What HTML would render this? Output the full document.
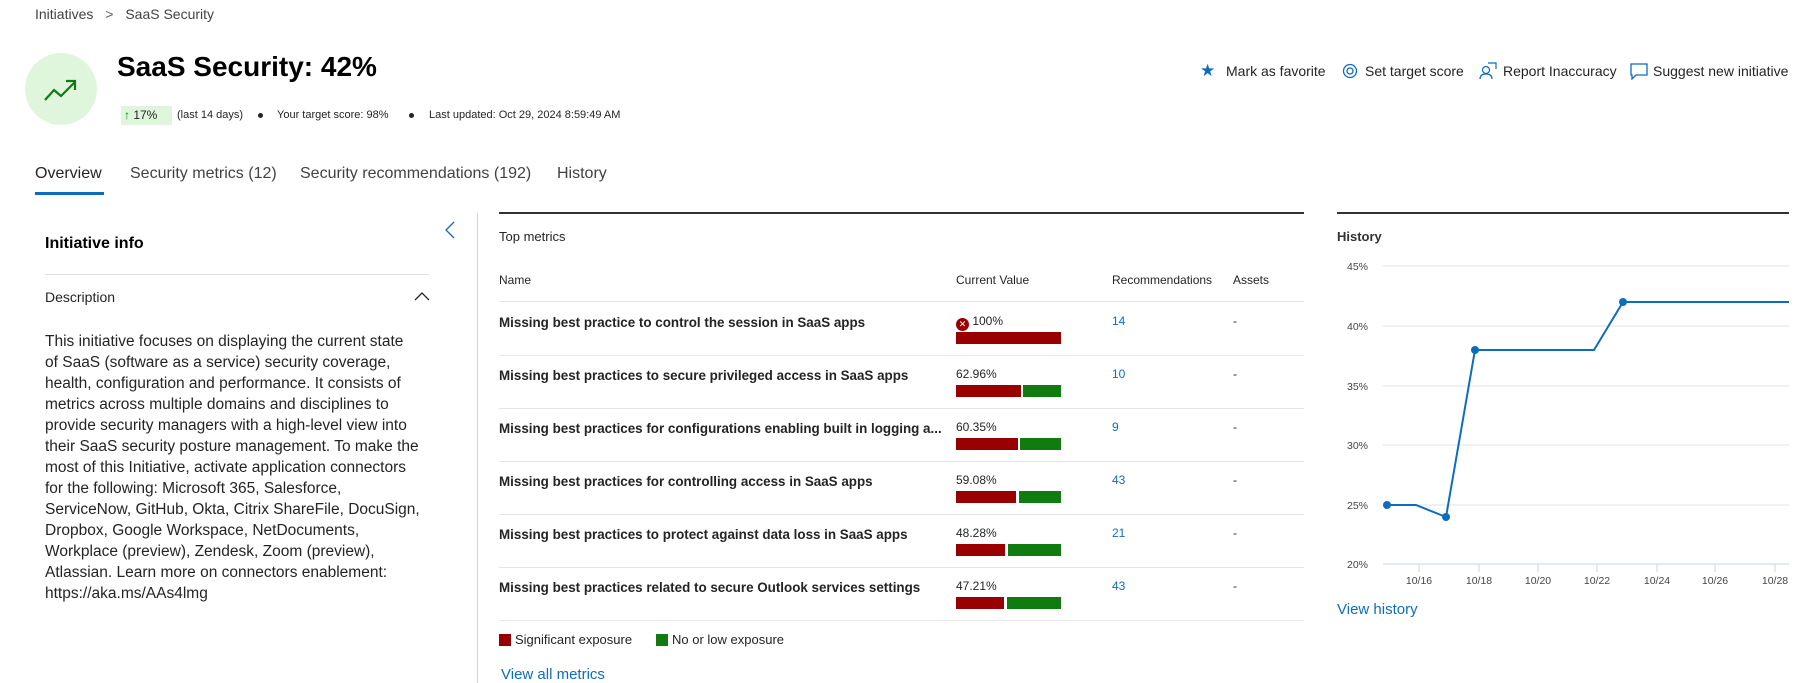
<!DOCTYPE html>
<html><head><meta charset="utf-8"><style>
body{margin:0;width:1810px;height:683px;overflow:hidden;background:#fff;font-family:"Liberation Sans",sans-serif;color:#242424;position:relative}
.a{position:absolute;white-space:nowrap}
.blue{color:#0f6cbd}
.row{position:absolute;left:499px;width:805px;height:53px;border-bottom:1px solid #e6e6e6}
.nm{position:absolute;left:0;top:13px;font-size:13.4px;font-weight:bold;color:#242424;max-width:470px;overflow:hidden}
.vv{position:absolute;left:457px;top:12px;font-size:12px}
.bar{position:absolute;left:457px;top:30px;height:12px;width:105px}
.bar .r{position:absolute;left:0;top:0;height:12px;background:#990000}
.bar .g{position:absolute;right:0;top:0;height:12px;background:#107c10}
.rc{position:absolute;left:613px;top:12px;font-size:12px;color:#0f6cbd}
.as{position:absolute;left:734px;top:12px;font-size:12px}
</style></head><body>
<div class="a" style="left:35px;top:6px;font-size:14px;color:#424242">Initiatives <span style="margin:0 8px;color:#616161">&gt;</span> SaaS Security</div>

<div class="a" style="left:25px;top:53px;width:72px;height:72px;border-radius:50%;background:#dff6dd"></div>
<svg class="a" style="left:44px;top:78px" width="36" height="24" viewBox="0 0 36 24"><polyline points="1,22 10,12 17,18 31,4" fill="none" stroke="#107c10" stroke-width="2.2"/><polyline points="22,3 31,3 31,12" fill="none" stroke="#107c10" stroke-width="2.2"/></svg>
<div class="a" style="left:117px;top:51px;font-size:28px;font-weight:bold;color:#000">SaaS Security: 42%</div>
<div class="a" style="left:121px;top:106px;width:51px;height:19px;background:#dff6dd"></div>
<div class="a" style="left:124px;top:108px;font-size:12px;color:#242424"><span style="color:#107c10">&#8593;</span> 17%</div>
<div class="a" style="left:177px;top:109px;font-size:11px">(last 14 days)</div>
<div class="a" style="left:258px;top:113px;width:5px;height:5px;border-radius:50%;background:#242424"></div>
<div class="a" style="left:277px;top:109px;font-size:11px">Your target score: 98%</div>
<div class="a" style="left:409px;top:113px;width:5px;height:5px;border-radius:50%;background:#242424"></div>
<div class="a" style="left:429px;top:109px;font-size:11px">Last updated: Oct 29, 2024 8:59:49 AM</div>

<div class="a" style="left:1200px;top:61px;font-size:17px;color:#0f6cbd">&#9733;</div>
<div class="a" style="left:1226px;top:63px;font-size:14px">Mark as favorite</div>
<svg class="a" style="left:1342px;top:63px" width="16" height="16"><circle cx="8" cy="8" r="6.5" fill="none" stroke="#0f6cbd" stroke-width="1.3"/><circle cx="8" cy="8" r="3" fill="none" stroke="#0f6cbd" stroke-width="1.3"/></svg>
<div class="a" style="left:1365px;top:63px;font-size:14px">Set target score</div>
<svg class="a" style="left:1479px;top:62px" width="18" height="18"><circle cx="7" cy="8" r="3.5" fill="none" stroke="#0f6cbd" stroke-width="1.2"/><path d="M1 17c0-4 3-5 6-5s6 1 6 5" fill="none" stroke="#0f6cbd" stroke-width="1.2"/><path d="M9 1h8v6" fill="none" stroke="#0f6cbd" stroke-width="1.2"/></svg>
<div class="a" style="left:1503px;top:63px;font-size:14px">Report Inaccuracy</div>
<svg class="a" style="left:1630px;top:63px" width="18" height="17"><path d="M1 1h16v11H6l-4 4V12H1z" fill="none" stroke="#0f6cbd" stroke-width="1.3"/></svg>
<div class="a" style="left:1653px;top:63px;font-size:14px">Suggest new initiative</div>

<div class="a" style="left:35px;top:165px;font-size:16px;color:#242424">Overview</div>
<div class="a" style="left:35px;top:192px;width:69px;height:3px;background:#0f6cbd"></div>
<div class="a" style="left:130px;top:165px;font-size:16px;color:#424242">Security metrics (12)</div>
<div class="a" style="left:300px;top:165px;font-size:16px;color:#424242">Security recommendations (192)</div>
<div class="a" style="left:557px;top:165px;font-size:16px;color:#424242">History</div>

<!-- left panel -->
<div class="a" style="left:45px;top:235px;font-size:16px;font-weight:bold;color:#000">Initiative info</div>
<svg class="a" style="left:444px;top:220px" width="12" height="20"><polyline points="10,2 2,10 10,18" fill="none" stroke="#0f6cbd" stroke-width="1.3"/></svg>
<div class="a" style="left:45px;top:274px;width:384px;height:1px;background:#e0e0e0"></div>
<div class="a" style="left:45px;top:289px;font-size:14px;color:#242424">Description</div>
<svg class="a" style="left:413px;top:290px" width="18" height="12"><polyline points="2,10 9,3 16,10" fill="none" stroke="#242424" stroke-width="1.3"/></svg>
<div class="a" style="left:45px;top:331px;font-size:15.5px;line-height:21px;color:#242424">This initiative focuses on displaying the current state<br>of SaaS (software as a service) security coverage,<br>health, configuration and performance. It consists of<br>metrics across multiple domains and disciplines to<br>provide security managers with a high-level view into<br>their SaaS security posture management. To make the<br>most of this Initiative, activate application connectors<br>for the following: Microsoft 365, Salesforce,<br>ServiceNow, GitHub, Okta, Citrix ShareFile, DocuSign,<br>Dropbox, Google Workspace, NetDocuments,<br>Workplace (preview), Zendesk, Zoom (preview),<br>Atlassian. Learn more on connectors enablement:<br>https://aka.ms/AAs4lmg</div>
<div class="a" style="left:477px;top:213px;width:1px;height:470px;background:#d6d6d6"></div>

<!-- middle -->
<div class="a" style="left:499px;top:212px;width:805px;height:2px;background:#333"></div>
<div class="a" style="left:499px;top:229px;font-size:13px;color:#242424">Top metrics</div>
<div class="a" style="left:499px;top:273px;font-size:12px">Name</div>
<div class="a" style="left:956px;top:273px;font-size:12px">Current Value</div>
<div class="a" style="left:1112px;top:273px;font-size:12px">Recommendations</div>
<div class="a" style="left:1233px;top:273px;font-size:12px">Assets</div>
<div class="a" style="left:499px;top:301px;width:805px;height:1px;background:#e6e6e6"></div>

<div class="row" style="top:302px"><div class="nm">Missing best practice to control the session in SaaS apps</div>
<div class="vv"><span style="display:inline-block;width:13px;height:13px;border-radius:50%;background:#990000;color:#fff;font-size:9px;line-height:13px;text-align:center;vertical-align:-2px">&#10005;</span> 100%</div>
<div class="bar"><div class="r" style="width:105px"></div></div><div class="rc">14</div><div class="as">-</div></div>

<div class="row" style="top:355px"><div class="nm">Missing best practices to secure privileged access in SaaS apps</div><div class="vv">62.96%</div>
<div class="bar"><div class="r" style="width:65px"></div><div class="g" style="width:38px"></div></div><div class="rc">10</div><div class="as">-</div></div>

<div class="row" style="top:408px"><div class="nm">Missing best practices for configurations enabling built in logging a...</div><div class="vv">60.35%</div>
<div class="bar"><div class="r" style="width:62px"></div><div class="g" style="width:41px"></div></div><div class="rc">9</div><div class="as">-</div></div>

<div class="row" style="top:461px"><div class="nm">Missing best practices for controlling access in SaaS apps</div><div class="vv">59.08%</div>
<div class="bar"><div class="r" style="width:60px"></div><div class="g" style="width:42px"></div></div><div class="rc">43</div><div class="as">-</div></div>

<div class="row" style="top:514px"><div class="nm">Missing best practices to protect against data loss in SaaS apps</div><div class="vv">48.28%</div>
<div class="bar"><div class="r" style="width:49px"></div><div class="g" style="width:53px"></div></div><div class="rc">21</div><div class="as">-</div></div>

<div class="row" style="top:567px"><div class="nm">Missing best practices related to secure Outlook services settings</div><div class="vv">47.21%</div>
<div class="bar"><div class="r" style="width:48px"></div><div class="g" style="width:54px"></div></div><div class="rc">43</div><div class="as">-</div></div>

<div class="a" style="left:499px;top:634px;width:12px;height:12px;background:#990000"></div>
<div class="a" style="left:515px;top:632px;font-size:13px">Significant exposure</div>
<div class="a" style="left:656px;top:634px;width:12px;height:12px;background:#107c10"></div>
<div class="a" style="left:672px;top:632px;font-size:13px">No or low exposure</div>
<div class="a blue" style="left:501px;top:666px;font-size:15px">View all metrics</div>

<!-- history -->
<div class="a" style="left:1337px;top:212px;width:452px;height:2px;background:#333"></div>
<div class="a" style="left:1337px;top:229px;font-size:13px;font-weight:bold;color:#333">History</div>
<svg class="a" style="left:1330px;top:255px" width="480" height="340">
<g stroke="#e3e3e3" stroke-width="1">
<line x1="53" y1="11" x2="459" y2="11"/><line x1="53" y1="71" x2="459" y2="71"/><line x1="53" y1="131" x2="459" y2="131"/><line x1="53" y1="190" x2="459" y2="190"/><line x1="53" y1="250" x2="459" y2="250"/></g>
<line x1="53" y1="309" x2="459" y2="309" stroke="#c8d6ea"/>
<g stroke="#c8d6ea"><line x1="89" y1="309" x2="89" y2="317"/><line x1="149" y1="309" x2="149" y2="317"/><line x1="208" y1="309" x2="208" y2="317"/><line x1="267" y1="309" x2="267" y2="317"/><line x1="327" y1="309" x2="327" y2="317"/><line x1="385" y1="309" x2="385" y2="317"/><line x1="445" y1="309" x2="445" y2="317"/></g>
<g font-family="Liberation Sans, sans-serif" font-size="10.5" fill="#444" text-anchor="end">
<text x="38" y="15">45%</text><text x="38" y="75">40%</text><text x="38" y="135">35%</text><text x="38" y="194">30%</text><text x="38" y="254">25%</text><text x="38" y="313">20%</text></g>
<g font-family="Liberation Sans, sans-serif" font-size="10.5" fill="#444" text-anchor="middle">
<text x="89" y="329">10/16</text><text x="149" y="329">10/18</text><text x="208" y="329">10/20</text><text x="267" y="329">10/22</text><text x="327" y="329">10/24</text><text x="385" y="329">10/26</text><text x="445" y="329">10/28</text></g>
<polyline points="57,250 86,250 116,262 145,95 264,95 293,47 459,47" fill="none" stroke="#0f6cbd" stroke-width="2"/>
<g fill="#0f6cbd"><circle cx="57" cy="250" r="4"/><circle cx="116" cy="262" r="4"/><circle cx="145" cy="95" r="4"/><circle cx="293" cy="47" r="4"/></g>
</svg>
<div class="a blue" style="left:1337px;top:601px;font-size:15px">View history</div>
</body></html>
